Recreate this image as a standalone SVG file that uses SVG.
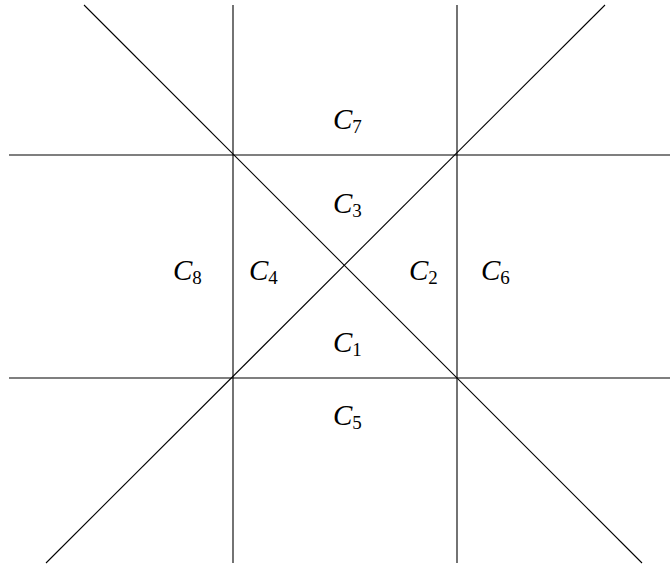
<svg xmlns="http://www.w3.org/2000/svg" width="670" height="566" viewBox="0 0 670 566">
<style>
.ln{stroke:#000;stroke-width:1.1;fill:none}
text{font-family:'Liberation Serif','DejaVu Serif',serif;font-size:29px;fill:#000}
tspan.c{font-style:italic}
tspan.s{font-size:19px}
</style>
<rect width="670" height="566" fill="#fff"/>
<g id="connectors">
<line class="ln" x1="233" y1="5" x2="233" y2="563"/>
<line class="ln" x1="457" y1="5" x2="457" y2="563"/>
<line class="ln" x1="9" y1="155" x2="670" y2="155"/>
<line class="ln" x1="9" y1="378" x2="670" y2="378"/>
<line class="ln" x1="84" y1="5" x2="642" y2="563"/>
<line class="ln" x1="605" y1="5" x2="46" y2="563"/>
</g>
<g id="C7"><text x="333" y="129"><tspan class="c">C</tspan><tspan class="s" dy="4">7</tspan></text></g>
<g id="C3"><text x="333" y="213"><tspan class="c">C</tspan><tspan class="s" dy="4">3</tspan></text></g>
<g id="C8"><text x="173" y="280"><tspan class="c">C</tspan><tspan class="s" dy="4">8</tspan></text></g>
<g id="C4"><text x="249" y="280"><tspan class="c">C</tspan><tspan class="s" dy="4">4</tspan></text></g>
<g id="C2"><text x="409" y="280"><tspan class="c">C</tspan><tspan class="s" dy="4">2</tspan></text></g>
<g id="C6"><text x="481" y="280"><tspan class="c">C</tspan><tspan class="s" dy="4">6</tspan></text></g>
<g id="C1"><text x="333" y="352"><tspan class="c">C</tspan><tspan class="s" dy="4">1</tspan></text></g>
<g id="C5"><text x="333" y="425"><tspan class="c">C</tspan><tspan class="s" dy="4">5</tspan></text></g>
</svg>
